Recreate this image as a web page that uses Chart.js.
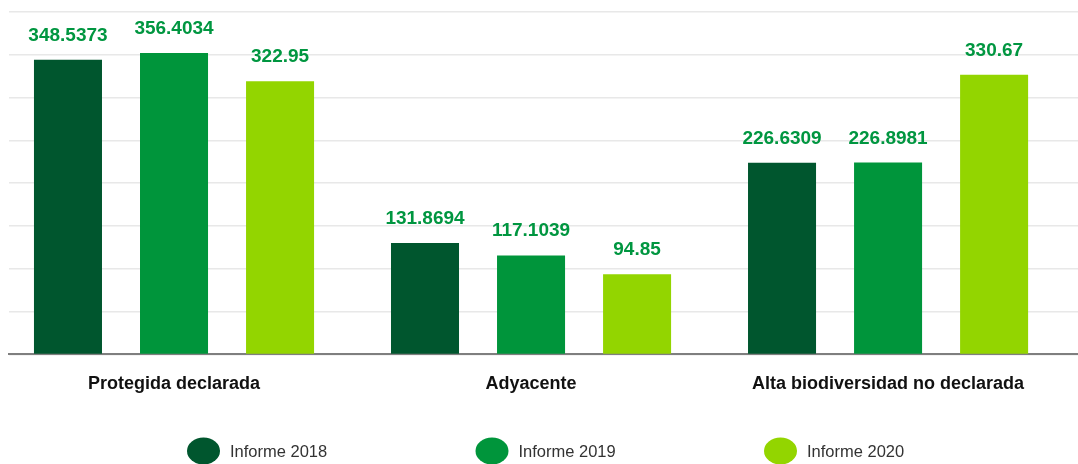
<!DOCTYPE html>
<html>
<head>
<meta charset="utf-8">
<script src="https://cdn.jsdelivr.net/npm/chart.js@4.4.1/dist/chart.umd.min.js"></script>
<style>
  html, body { margin: 0; padding: 0; background: #ffffff; }
  #wrap { position: relative; width: 1078px; height: 464px; }
</style>
</head>
<body>
<div id="wrap"><canvas id="c" width="1078" height="464"></canvas></div>
<script>
const categories = ['Protegida declarada', 'Adyacente', 'Alta biodiversidad no declarada'];
const seriesNames = ['Informe 2018', 'Informe 2019', 'Informe 2020'];
const values2018 = [348.5373, 131.8694, 226.6309];
const values2019 = [356.4034, 117.1039, 226.8981];
const values2020 = [322.95, 94.85, 330.67];
const labels2018 = ['348.5373', '131.8694', '226.6309'];
const labels2019 = ['356.4034', '117.1039', '226.8981'];
const labels2020 = ['322.95', '94.85', '330.67'];
const colors = ['#00562E', '#00953B', '#93D500'];

const FONT = '"Liberation Sans", Arial, sans-serif';

function toPoints(vals) { return vals.map((v, i) => ({ x: i, y: v })); }

const valueLabelPlugin = {
  id: 'valueLabels',
  afterDatasetsDraw(chart) {
    const ctx = chart.ctx;
    const texts = [labels2018, labels2019, labels2020];
    ctx.save();
    ctx.font = 'bold 19px ' + FONT;
    ctx.fillStyle = '#009640';
    ctx.textAlign = 'center';
    ctx.textBaseline = 'alphabetic';
    chart.data.datasets.forEach((ds, di) => {
      const meta = chart.getDatasetMeta(di);
      meta.data.forEach((bar, i) => {
        ctx.fillText(texts[di][i], bar.x, bar.y - 19);
      });
    });
    ctx.restore();
  }
};

const legendPlugin = {
  id: 'customLegend',
  afterDraw(chart) {
    const ctx = chart.ctx;
    ctx.save();
    const startX = 203.5, step = 288.5, cy = 451;
    chart.data.datasets.forEach((ds, i) => {
      const cx = startX + i * step;
      ctx.beginPath();
      ctx.ellipse(cx, cy, 16.5, 13.5, 0, 0, Math.PI * 2);
      ctx.fillStyle = ds.backgroundColor;
      ctx.fill();
      ctx.font = '16.5px ' + FONT;
      ctx.fillStyle = '#333333';
      ctx.textAlign = 'left';
      ctx.textBaseline = 'middle';
      ctx.fillText(ds.label, cx + 26.5, cy + 1);
    });
    ctx.restore();
  }
};

new Chart(document.getElementById('c'), {
  type: 'bar',
  data: {
    datasets: [
      { label: seriesNames[0], data: toPoints(values2018), backgroundColor: colors[0] },
      { label: seriesNames[1], data: toPoints(values2019), backgroundColor: colors[1] },
      { label: seriesNames[2], data: toPoints(values2020), backgroundColor: colors[2] }
    ]
  },
  options: {
    responsive: false,
    animation: false,
    layout: { padding: { top: 12, left: 9, right: 0, bottom: 50 } },
    datasets: { bar: { categoryPercentage: 0.891, barPercentage: 0.6415 } },
    plugins: {
      legend: { display: false },
      tooltip: { enabled: false }
    },
    scales: {
      x: {
        type: 'linear',
        offset: false,
        min: -0.4622,
        max: 2.532,
        afterBuildTicks(scale) { scale.ticks = categories.map((c, i) => ({ value: i })); },
        grid: { display: false, drawTicks: false, offset: false },
        border: { display: true, color: '#7f7f7f', width: 2 },
        ticks: {
          padding: 19,
          color: '#111111',
          font: { family: FONT, size: 18, weight: 'bold' },
          maxRotation: 0,
          autoSkip: false,
          callback: (v) => categories[v]
        }
      },
      y: {
        min: 0,
        max: 405,
        ticks: { display: false, count: 9 },
        grid: { color: '#e8e8e8', lineWidth: 1.5, drawTicks: false },
        border: { display: false }
      }
    }
  },
  plugins: [valueLabelPlugin, legendPlugin]
});
</script>
</body>
</html>
